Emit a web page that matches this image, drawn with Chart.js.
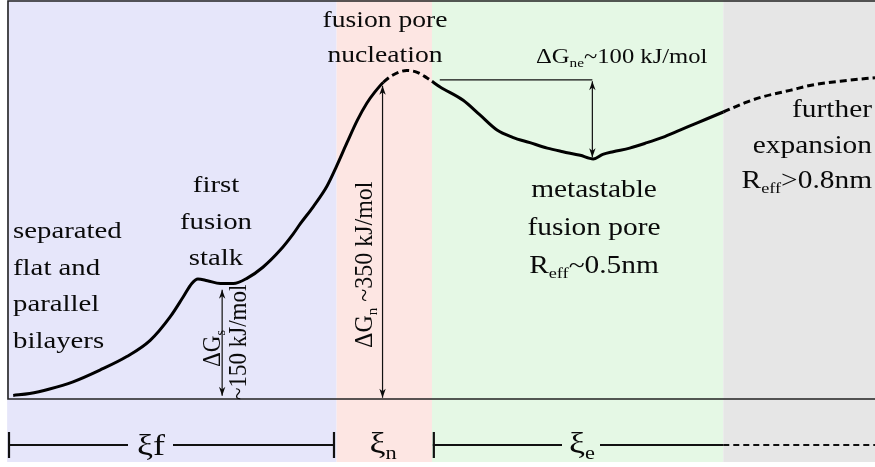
<!DOCTYPE html>
<html>
<head>
<meta charset="utf-8">
<script src="https://cdn.jsdelivr.net/npm/chart.js@4.4.1/dist/chart.umd.min.js"></script>
<style>
  html, body { margin: 0; padding: 0; background: #fff; }
  #wrap { width: 875px; height: 467px; }
</style>
</head>
<body>
<div id="wrap"><canvas id="energyChart" width="875" height="467"></canvas></div>
<script>
// reaction coordinate (arbitrary units, 0..100) and free energy (kJ/mol, approx.)
const xi = [0.6, 2.5, 4.8, 7.5, 10.6, 13.7, 16.4, 18.7, 20.2, 21.2, 21.9, 23.0, 24.5, 26.0, 27.6,
  29.4, 31.4, 32.9, 33.7, 35.2, 36.8, 37.9, 39.1, 40.3, 41.4, 42.3, 43.3, 44.4, 46.0, 47.2,
  48.3, 48.9, 49.8, 52.5, 54.4, 56.4, 58.2, 60.2, 62.2, 64.0, 66.0, 67.5, 68.6, 69.8, 71.7,
  73.7, 75.5, 77.5, 79.5, 82.5, 85.2, 87.1, 90.2, 92.8, 96.8, 100];
const energy = [4, 6, 11, 19, 32, 47, 65, 91, 113, 128, 133, 131, 128, 128, 134,
  146, 165, 183, 194, 213, 236, 258, 284, 309, 328, 340, 351, 359, 364, 362,
  356, 352, 346, 331, 315, 298, 290, 284, 278, 274, 270, 266, 271, 274, 278,
  284, 290, 298, 306, 318, 329, 335, 342, 348, 353, 356];
// parts of the path drawn dashed (uncertain regions)
const dashedSpans = [[43.3, 48.9], [82.5, 100]];
// stage boundaries along the reaction coordinate
const stageEdges = [-0.1, 37.9, 48.9, 82.5, 100];
const stageColors = ['#e6e6fa', '#fde6e3', '#e5f8e5', '#e6e6e6'];

const FONT = '"Liberation Serif", "DejaVu Serif", serif';
const SX = 1.2; // the original figure is stretched horizontally

function isDashed(a, b) {
  return dashedSpans.some(s => a >= s[0] - 1e-6 && b <= s[1] + 1e-6);
}

function richText(ctx, parts, x, y, size, align, sx) {
  sx = sx || 1;
  const sub = size * 0.62;
  let w = 0;
  parts.forEach(p => {
    ctx.font = (p.sub ? sub : size) + 'px ' + FONT;
    p.w = ctx.measureText(p.t).width;
    w += p.w;
  });
  let cx = align === 'center' ? -w / 2 : align === 'right' ? -w : 0;
  ctx.save();
  ctx.translate(x, y);
  ctx.scale(sx, 1);
  ctx.textAlign = 'left';
  ctx.textBaseline = 'alphabetic';
  parts.forEach(p => {
    ctx.font = (p.sub ? sub : size) + 'px ' + FONT;
    ctx.fillText(p.t, cx, p.sub ? size * 0.2 : 0);
    cx += p.w;
  });
  ctx.restore();
}

function vText(ctx, parts, x, y, size, sy) {
  ctx.save();
  ctx.translate(x, y);
  ctx.rotate(-Math.PI / 2);
  ctx.scale(1, sy);
  richText(ctx, parts, 0, 0, size, 'left');
  ctx.restore();
}

function head(ctx, x, y, ang) {
  const L = 9, W = 3.2;
  ctx.save();
  ctx.translate(x, y);
  ctx.rotate(ang);
  ctx.beginPath();
  ctx.moveTo(0, 0);
  ctx.lineTo(-L, -W);
  ctx.lineTo(-L * 0.7, 0);
  ctx.lineTo(-L, W);
  ctx.closePath();
  ctx.fill();
  ctx.restore();
}

function arrow(ctx, x1, y1, x2, y2) {
  const ang = Math.atan2(y2 - y1, x2 - x1);
  ctx.beginPath();
  ctx.moveTo(x1, y1);
  ctx.lineTo(x2, y2);
  ctx.stroke();
  head(ctx, x2, y2, ang);
  head(ctx, x1, y1, ang + Math.PI);
}

const decor = {
  id: 'decor',
  beforeDatasetsDraw(chart) {
    const { ctx, chartArea: a, scales: { x } } = chart;
    ctx.save();
    for (let i = 0; i < stageColors.length; i++) {
      const l = x.getPixelForValue(stageEdges[i]);
      const r = x.getPixelForValue(stageEdges[i + 1]);
      ctx.fillStyle = stageColors[i];
      ctx.fillRect(l, a.top - 1, r - l, a.bottom - a.top + 64);
    }
    ctx.strokeStyle = '#222';
    ctx.lineWidth = 1.6;
    ctx.beginPath();
    ctx.moveTo(a.right, a.top);
    ctx.lineTo(a.left, a.top);
    ctx.lineTo(a.left, a.bottom);
    ctx.lineTo(a.right, a.bottom);
    ctx.stroke();
    ctx.restore();
  },
  afterDatasetsDraw(chart) {
    const { ctx, chartArea: a, scales: { x, y } } = chart;
    const X = v => x.getPixelForValue(v), Y = v => y.getPixelForValue(v);
    ctx.save();
    ctx.fillStyle = '#0a0a0a';
    ctx.strokeStyle = '#111';
    ctx.lineWidth = 1.2;

    // energy gaps
    arrow(ctx, X(43.2), Y(347), X(43.2), Y(1.5));
    arrow(ctx, X(24.7), Y(121), X(24.7), Y(3.5));
    ctx.beginPath();
    ctx.moveTo(X(49.8), Y(353.5));
    ctx.lineTo(X(67.4), Y(353.5));
    ctx.stroke();
    arrow(ctx, X(67.4), Y(352), X(67.4), Y(268));

    // labels
    richText(ctx, [{ t: 'fusion pore' }], 385, 27, 23, 'center', SX);
    richText(ctx, [{ t: 'nucleation' }], 385, 62, 23, 'center', SX);

    richText(ctx, [{ t: 'metastable' }], 594, 197, 24.5, 'center', SX);
    richText(ctx, [{ t: 'fusion pore' }], 594, 235, 24.5, 'center', SX);
    richText(ctx, [{ t: 'R' }, { t: 'eff', sub: true }, { t: '~0.5nm' }], 594, 273, 24.5, 'center', SX);

    richText(ctx, [{ t: 'further' }], 872, 117, 24.5, 'right', SX);
    richText(ctx, [{ t: 'expansion' }], 872, 153, 24.5, 'right', SX);
    richText(ctx, [{ t: 'R' }, { t: 'eff', sub: true }, { t: '>0.8nm' }], 872, 188, 24.5, 'right', SX);

    ['separated', 'flat and', 'parallel', 'bilayers'].forEach((t, i) =>
      richText(ctx, [{ t }], 13, 238 + i * 36.5, 24, 'left', SX));
    ['first', 'fusion', 'stalk'].forEach((t, i) =>
      richText(ctx, [{ t }], 216, 192 + i * 36.5, 24, 'center', SX));

    richText(ctx, [{ t: '\u0394G' }, { t: 'ne', sub: true }, { t: '~100 kJ/mol' }], 536, 63, 20.5, 'left', SX);

    vText(ctx, [{ t: '\u0394G' }, { t: 'n', sub: true }, { t: ' ~350 kJ/mol' }], 372, 348, 24, 1.05);
    vText(ctx, [{ t: '\u0394G' }, { t: 's', sub: true }], 220, 367, 23, 1.05);
    vText(ctx, [{ t: '~150 kJ/mol' }], 246, 400, 23, 1.05);

    // stage ruler under the axis
    const ry = a.bottom + 46;
    ctx.strokeStyle = '#111';
    ctx.lineWidth = 2.2;
    const seg = (l, r) => { ctx.beginPath(); ctx.moveTo(l, ry); ctx.lineTo(r, ry); ctx.stroke(); };
    const bar = px => { ctx.beginPath(); ctx.moveTo(px, ry - 13); ctx.lineTo(px, ry + 13); ctx.stroke(); };
    bar(X(0) + 1); bar(X(37.6)); bar(X(49.0) + 1);
    seg(X(0), 128); seg(173, X(37.6));
    seg(X(49.0), 562); seg(600, X(82.5));
    ctx.setLineDash([6, 4]);
    ctx.lineWidth = 2;
    seg(X(82.5), a.right);
    ctx.setLineDash([]);
    richText(ctx, [{ t: '\u03be' }, { t: 'f' }], 151, 455, 30, 'center', SX);
    richText(ctx, [{ t: '\u03be' }, { t: 'n', sub: true }], 383, 453, 30, 'center', SX);
    richText(ctx, [{ t: '\u03be' }, { t: 'e', sub: true }], 582, 453, 30, 'center', SX);
    ctx.restore();
  }
};

new Chart(document.getElementById('energyChart').getContext('2d'), {
  type: 'line',
  data: {
    datasets: [{
      label: 'free energy',
      data: xi.map((v, i) => ({ x: v, y: energy[i] })),
      borderColor: '#000',
      borderWidth: 3,
      pointRadius: 0,
      fill: false,
      cubicInterpolationMode: 'monotone',
      segment: {
        borderDash: c => isDashed(c.p0.parsed.x, c.p1.parsed.x) ? [7, 4] : undefined
      }
    }]
  },
  options: {
    responsive: false,
    animation: false,
    devicePixelRatio: 1,
    layout: { padding: { left: 8, top: 1, right: 0, bottom: 68 } },
    scales: {
      x: { type: 'linear', min: 0, max: 100, display: false },
      y: { min: 0, max: 441, display: false }
    },
    plugins: { legend: { display: false }, tooltip: { enabled: false } }
  },
  plugins: [decor]
});
</script>
</body>
</html>
